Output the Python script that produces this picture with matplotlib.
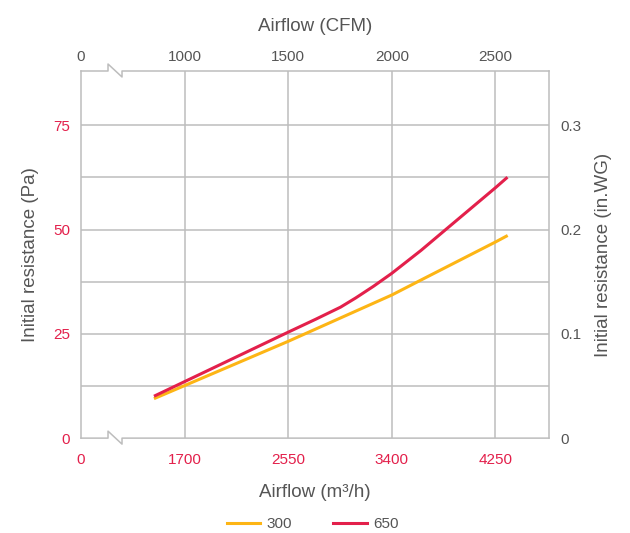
import matplotlib
matplotlib.use("Agg")
import matplotlib.pyplot as plt

plt.rcParams['font.family'] = ['Liberation Sans', 'DejaVu Sans']

# airflow in m3/h, resistance in Pa
x_300 = [1460, 2550, 3400, 3640, 4250, 4340]
y_300 = [9.6, 23.2, 34.3, 37.9, 47.0, 48.4]
x_650 = [1460, 2550, 2776, 2980, 3104, 3250, 3400, 3640, 3843, 4250, 4340]
y_650 = [10.2, 25.4, 28.5, 31.4, 33.6, 36.4, 39.5, 45.0, 50.0, 60.0, 62.3]

m3h_ticks = [850, 1700, 2550, 3400, 4250]
m3h_labels = ["0", "1700", "2550", "3400", "4250"]
cfm_labels = ["0", "1000", "1500", "2000", "2500"]
pa_ticks = [0, 25, 50, 75]
inwg_ticks = [0, 0.1, 0.2, 0.3]
inwg_labels = ["0", "0.1", "0.2", "0.3"]

yellow = "#FDB515"
red = "#E3204B"
grey_txt = "#555555"
grid_c = "#BDBDBD"

fig = plt.figure(figsize=(6.3, 5.33), dpi=100)
ax = fig.add_axes([0.1286, 0.178, 0.7428, 0.6888])

ax.plot(x_300, y_300, color=yellow, lw=2.2, label="300", solid_joinstyle="round")
ax.plot(x_650, y_650, color=red, lw=2.2, label="650", solid_joinstyle="round")

ax.set_xlim(850, 4690)
ax.set_ylim(0, 88)
ax.set_xticks(m3h_ticks)
ax.set_xticklabels(m3h_labels, color=red, fontsize=11)
ax.set_yticks(pa_ticks)
ax.set_yticklabels([str(t) for t in pa_ticks], color=red, fontsize=11)
ax.tick_params(length=0, pad=8)
ax.tick_params(axis='x', pad=11)

# grid every 12.5 Pa and at each airflow tick
for v in [12.5, 25, 37.5, 50, 62.5, 75]:
    ax.axhline(v, color=grid_c, lw=1.1, zorder=0)
for v in m3h_ticks[1:]:
    ax.axvline(v, color=grid_c, lw=1.1, zorder=0)

for s in ['top', 'bottom']:
    ax.spines[s].set_visible(False)
for s in ['left', 'right']:
    ax.spines[s].set_color(grid_c)
    ax.spines[s].set_linewidth(1.1)

# broken axis marks on top and bottom edges
x1, x2 = 0.0577, 0.0876
up, dn = 0.019, 0.0163
for base in [0.0, 1.0]:
    xs = [0, x1, x1, x2, x2, 1]
    ys = [base, base, base + up, base - dn, base, base]
    ax.plot(xs, ys, transform=ax.transAxes, color=grid_c, lw=1.1, clip_on=False)

ax.set_xlabel("Airflow (m³/h)", fontsize=13.5, color=grey_txt, labelpad=12)
ax.set_ylabel("Initial resistance (Pa)", fontsize=13.5, color=grey_txt, labelpad=10)

top = ax.secondary_xaxis('top')
top.set_xticks(m3h_ticks)
top.set_xticklabels(cfm_labels, color=grey_txt, fontsize=11)
top.tick_params(length=0, pad=5)
top.spines['top'].set_visible(False)
top.set_xlabel("Airflow (CFM)", fontsize=13.5, color=grey_txt, labelpad=14)

right = ax.twinx()
right.set_ylim(0, 88 * 0.004)
right.set_yticks(inwg_ticks)
right.set_yticklabels(inwg_labels, color=grey_txt, fontsize=11)
right.tick_params(length=0, pad=8)
for s in right.spines.values():
    s.set_visible(False)
right.set_ylabel("Initial resistance (in.WG)", fontsize=13.5, color=grey_txt, labelpad=10)

handles, labels = ax.get_legend_handles_labels()
leg = fig.legend(handles, labels, loc='center', bbox_to_anchor=(0.496, 0.017),
                 ncol=2, frameon=False, fontsize=11, handlelength=2.2,
                 columnspacing=2.7, handletextpad=0.4)
for t in leg.get_texts():
    t.set_color(grey_txt)

fig.savefig("out.png", dpi=100)
